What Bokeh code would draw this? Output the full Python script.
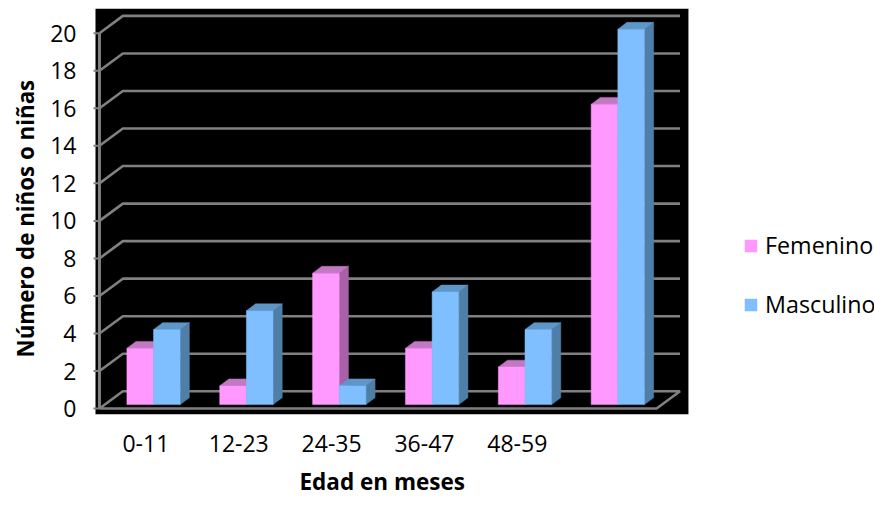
from bokeh.embed import file_html
from bokeh.models import FixedTicker, Legend, LegendItem, Range1d, Title
from bokeh.plotting import figure
from bokeh.resources import INLINE

age_groups = ["0-11", "12-23", "24-35", "36-47", "48-59", ""]
femenino = [3, 1, 7, 3, 2, 16]
masculino = [4, 5, 1, 6, 4, 20]
y_ticks = list(range(0, 21, 2))

PINK = ("#FF99FF", "#C278C2", "#A860A8")
BLUE = ("#7FBFFF", "#5F96C8", "#4F7EA6")
GRID = "#808080"

# Pixel layout of the pseudo-3D box
W, H = 874, 506
FRAME_L, FRAME_T, FRAME_B = 88, 8, 419
FRONT_L, FRONT_R, ZERO_Y = 95, 655, 413
SLOT = (FRONT_R - FRONT_L) / 6
UNIT = 19.0
BOX_DX, BOX_DY = 23.5 / SLOT, 17.5 / UNIT     # wall depth, in data units
BAR_DX, BAR_DY = 9.2 / SLOT, 7.0 / UNIT       # bar depth, in data units
BAR_SHIFT_X, BAR_SHIFT_Y = 7.7 / SLOT, 4.0 / UNIT
BAR_W = 26.8 / SLOT

def px_x(px):
    return (px - FRONT_L) / SLOT

def px_y(px):
    return (ZERO_Y - px) / UNIT

p = figure(width=W, height=H, output_backend="svg", toolbar_location=None,
           x_range=Range1d(px_x(FRAME_L), px_x(W)),
           y_range=Range1d(px_y(FRAME_B), px_y(FRAME_T)),
           min_border_left=FRAME_L, min_border_right=0,
           min_border_top=FRAME_T, min_border_bottom=H - FRAME_B,
           outline_line_color=None, background_fill_color="white",
           border_fill_color="white")
p.grid.visible = False

# Black backdrop
p.quad(left=[px_x(91)], right=[px_x(687)], top=[px_y(8)], bottom=[px_y(419)],
       fill_color="black", line_color=None)

# Back wall gridlines with their slanted returns to the front axis
grid_xs, grid_ys = [], []
for v in y_ticks[1:]:
    grid_xs.append([0, BOX_DX, 6 + BOX_DX])
    grid_ys.append([v, v + BOX_DY, v + BOX_DY])
p.multi_line(grid_xs, grid_ys, line_color=GRID, line_width=2.6)

# Floor outline
p.multi_line([[0, BOX_DX, 6 + BOX_DX, 6, 0]], [[0, BOX_DY, BOX_DY, 0, 0]],
             line_color=GRID, line_width=2.6)

# Front value axis and its tick marks
p.multi_line([[0, 0]], [[0, y_ticks[-1]]], line_color=GRID, line_width=3)
p.multi_line([[px_x(89), 0] for _ in y_ticks], [[v, v] for v in y_ticks],
             line_color=GRID, line_width=2)

def draw_series(values, offset, colors):
    lefts = [i + 0.5 + BAR_SHIFT_X + offset for i in range(len(values))]
    rights = [x + BAR_W for x in lefts]
    tops = [v + BAR_SHIFT_Y for v in values]
    side_x = [[r, r + BAR_DX, r + BAR_DX, r] for r in rights]
    side_y = [[BAR_SHIFT_Y, BAR_SHIFT_Y + BAR_DY, t + BAR_DY, t] for t in tops]
    cap_x = [[l, l + BAR_DX, r + BAR_DX, r] for l, r in zip(lefts, rights)]
    cap_y = [[t, t + BAR_DY, t + BAR_DY, t] for t in tops]
    p.patches(side_x, side_y, fill_color=colors[2], line_color=colors[2], line_width=0.5)
    p.patches(cap_x, cap_y, fill_color=colors[1], line_color=colors[1], line_width=0.5)
    return p.quad(left=lefts, right=rights, top=tops, bottom=BAR_SHIFT_Y,
                  fill_color=colors[0], line_color=colors[0], line_width=0.5)

r_f = draw_series(femenino, -BAR_W, PINK)
r_m = draw_series(masculino, 0, BLUE)

# Axes carry only their tick labels; the lines are part of the box above
FONT = "Open Sans"
p.yaxis.ticker = FixedTicker(ticks=y_ticks)
p.yaxis.axis_line_color = None
p.yaxis.major_tick_line_color = None
p.yaxis.minor_tick_line_color = None
p.yaxis.major_label_standoff = 10
p.yaxis.major_label_text_font = FONT
p.yaxis.major_label_text_font_size = "23px"
p.yaxis.major_label_text_color = "black"

p.xaxis.ticker = FixedTicker(ticks=[i + 0.5 for i in range(len(age_groups))])
p.xaxis.major_label_overrides = {i + 0.5: s for i, s in enumerate(age_groups)}
p.xaxis.axis_line_color = None
p.xaxis.major_tick_line_color = None
p.xaxis.minor_tick_line_color = None
p.xaxis.major_label_standoff = 14
p.xaxis.major_label_text_font = FONT
p.xaxis.major_label_text_font_size = "23px"
p.xaxis.major_label_text_color = "black"

# Axis titles sit off the frame's centre, under and beside the box
p.add_layout(Title(text="Número de niños o niñas", align="left", offset=57, standoff=14,
                   text_font=FONT, text_font_size="22.3px", text_font_style="bold",
                   text_color="black"), "left")
p.add_layout(Title(text="Edad en meses", align="left", offset=207, standoff=19,
                   text_font=FONT, text_font_size="22.5px", text_font_style="bold",
                   text_color="black"), "below")

legend = Legend(items=[LegendItem(label="Femenino", renderers=[r_f]),
                       LegendItem(label="Masculino", renderers=[r_m])],
                location=(739 - FRAME_L, 419 - 325),
                background_fill_alpha=0, border_line_color=None,
                glyph_width=15, glyph_height=15, spacing=27,
                padding=0, margin=0, label_standoff=7,
                label_text_font=FONT, label_text_font_size="23.3px",
                label_text_color="black")
p.add_layout(legend, "center")

open("out.html", "w").write(file_html(p, INLINE))
